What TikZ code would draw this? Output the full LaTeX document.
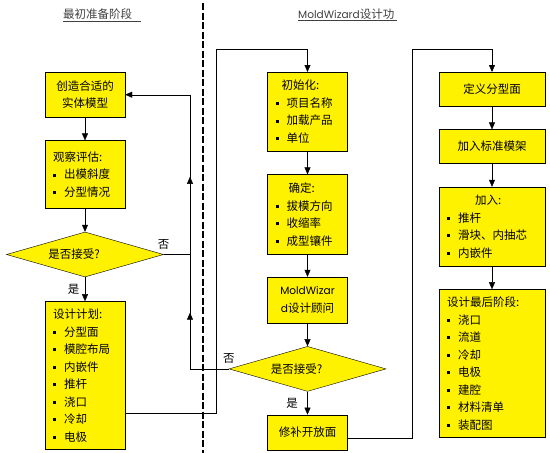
\documentclass[tikz,border=0pt]{standalone}
\usepackage{fontspec}
\setmainfont{Noto Sans CJK SC}
\newfontfamily\wizfont[Scale=0.92]{Poppins}
\usetikzlibrary{arrows.meta,positioning,shapes.geometric,decorations.markings}

\newcommand{\itm}{\rule[0.2em]{3pt}{3pt}\hspace{8pt}}

\begin{document}
\begin{tikzpicture}[
  x=1pt, y=-1pt,
  font=\fontsize{11.5}{17.5}\selectfont, node distance=23pt,
  box/.style={draw, fill=yellow, minimum width=80pt, inner xsep=8pt, inner ysep=2pt, align=center},
  lst/.style={box, text width=64pt, align=left},
  dec/.style={draw, fill=yellow, diamond, aspect=3.5, inner sep=0pt, minimum width=157pt, minimum height=45pt},
  arr/.style={-{Triangle[length=7pt,width=6pt]}},
  uparr/.style={postaction={decorate, decoration={markings, mark=at position #1 with {\arrow{Triangle[length=7pt,width=6pt]}}}}},
  ttl/.style={anchor=west, inner sep=1pt, text=black!75}
]
  \useasboundingbox (0,0) rectangle (550,453);

  % titles and the dividing line
  \node[ttl] (title1) at (62,15) {\underline{最初准备阶段\hspace{9pt}}};
  \node[ttl] (title2) at (297,15) {\underline{{\wizfont MoldWizard}设计功\hspace{3pt}}};
  \coordinate (divtop) at (203,3);
  \coordinate (divbot) at (203,453);
  \draw[line width=2.5pt, dash pattern=on 7pt off 2.5pt] (divtop) -- (divbot);

  % first stage
  \node[box, anchor=north, minimum height=45pt] (model) at (85,72) {创造合适的\\实体模型};
  \node[lst, below=of model, minimum height=68pt] (check) {观察评估:\\\itm 出模斜度\\\itm 分型情况};
  \node[dec, below=of check] (ok1) {是否接受?\hspace*{22pt}};
  \node[lst, below=24pt of ok1, minimum height=148pt] (plan) {设计计划:\\\itm 分型面\\\itm 模腔布局\\\itm 内嵌件\\\itm 推杆\\\itm 浇口\\\itm 冷却\\\itm 电极};

  % MoldWizard
  \node[lst, anchor=north, minimum height=79pt] (init) at (307.5,72) {\hspace*{6pt}初始化:\\\itm 项目名称\\\itm 加载产品\\\itm 单位};
  \node[lst, below=of init, minimum height=80pt] (fix) {\hspace*{13pt}确定:\\\itm 拔模方向\\\itm 收缩率\\\itm 成型镶件};
  \node[box, below=22pt of fix, minimum height=46pt] (advisor) {{\wizfont MoldWizar}\\{\wizfont d}设计顾问};
  \node[dec, below=of advisor] (ok2) {是否接受?\hspace*{22pt}};
  \node[box, below=of ok2, minimum height=35pt] (patch) {修补开放面};

  \node[box, anchor=north, minimum width=106pt, minimum height=34pt] (parting) at (492,72) {定义分型面};
  \node[box, below=of parting, minimum width=106pt, minimum height=34pt] (base) {加入标准模架};
  \node[lst, text width=90pt, below=of base, minimum height=79pt] (add) {\hspace*{28pt}加入:\\\itm 推杆\\\itm 滑块、内抽芯\\\itm 内嵌件};
  \node[lst, text width=90pt, below=of add, minimum height=148pt] (final) {设计最后阶段:\\\itm 浇口\\\itm 流道\\\itm 冷却\\\itm 电极\\\itm 建腔\\\itm 材料清单\\\itm 装配图};

  % connectors
  \coordinate (loop) at (190,0);
  \coordinate (busL) at (216,49);
  \coordinate (busR) at (412,49);

  \draw[arr] (model) -- (check);
  \draw[arr] (check) -- (ok1);
  \draw[arr] (ok1) -- node[left=2pt]{是} (plan);
  \draw[arr, uparr=104pt] (ok1.east) node[above=2pt]{否} -- (ok1.east -| loop) |- (model.east);
  \draw[uparr=95pt] (ok2.west) node[above=2pt]{否} -- (ok2.west -| loop) -- (ok1.east -| loop);
  \draw[arr] ([yshift=36pt]plan.south east) -| (busL) -| (init.north);

  \draw[arr] (init) -- (fix);
  \draw[arr] (fix) -- (advisor);
  \draw[arr] (advisor) -- (ok2);
  \draw[arr] (ok2) -- node[left=6pt]{是} (patch);
  \draw[arr] ([yshift=12pt]patch.south east) -| (busR) -| (parting.north);

  \draw[arr] (parting) -- (base);
  \draw[arr] (base) -- (add);
  \draw[arr] (add) -- (final);
\end{tikzpicture}
\end{document}
